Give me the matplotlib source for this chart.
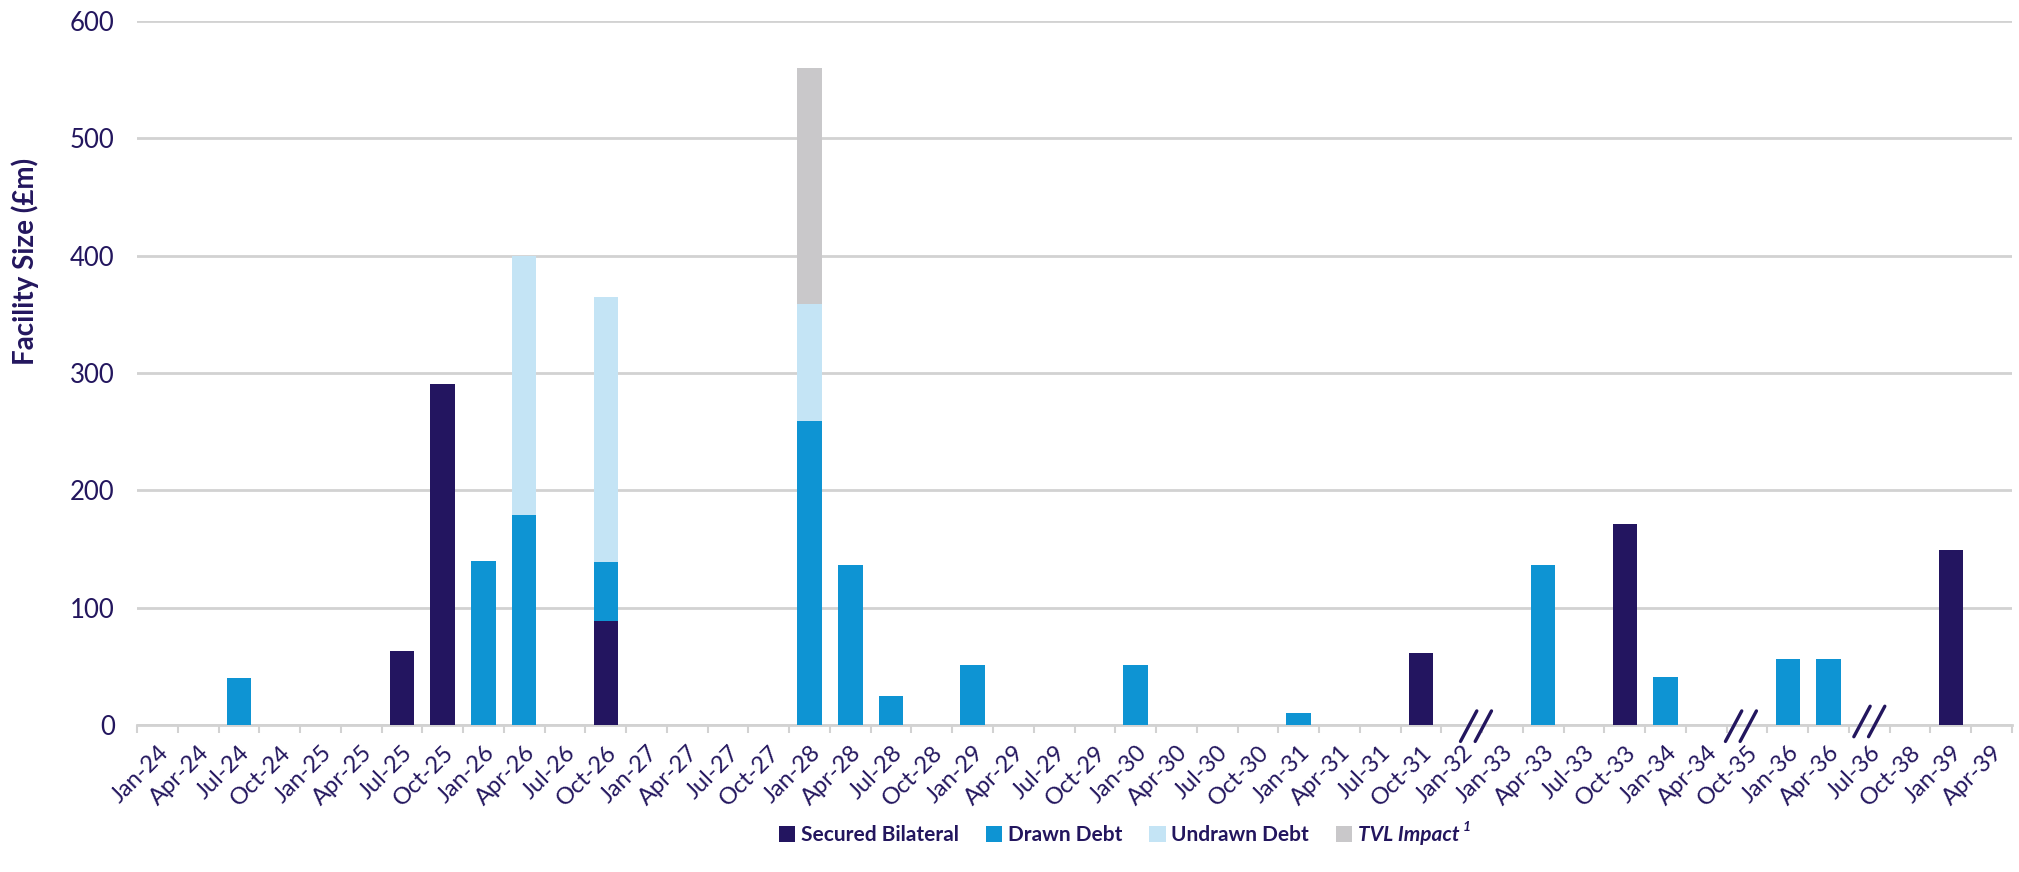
"""Debt maturity profile: facility size by maturity quarter, stacked bars."""

import matplotlib

matplotlib.use("Agg")
import matplotlib.pyplot as plt
from matplotlib.patches import Patch
from matplotlib.transforms import IdentityTransform

# %% data
QUARTERS = [
    "Jan-24", "Apr-24", "Jul-24", "Oct-24", "Jan-25", "Apr-25", "Jul-25", "Oct-25",
    "Jan-26", "Apr-26", "Jul-26", "Oct-26", "Jan-27", "Apr-27", "Jul-27", "Oct-27",
    "Jan-28", "Apr-28", "Jul-28", "Oct-28", "Jan-29", "Apr-29", "Jul-29", "Oct-29",
    "Jan-30", "Apr-30", "Jul-30", "Oct-30", "Jan-31", "Apr-31", "Jul-31", "Oct-31",
    "Jan-32", "Jan-33", "Apr-33", "Jul-33", "Oct-33", "Jan-34", "Apr-34", "Oct-35",
    "Jan-36", "Apr-36", "Jul-36", "Oct-38", "Jan-39", "Apr-39",
]

# £m per quarter
secured_bilateral = {"Jul-25": 63, "Oct-25": 291, "Oct-26": 89, "Oct-31": 61,
                     "Oct-33": 171, "Jan-39": 149}
drawn_debt = {"Jul-24": 40, "Jan-26": 140, "Apr-26": 179, "Oct-26": 50, "Jan-28": 259,
              "Apr-28": 136, "Jul-28": 25, "Jan-29": 51, "Jan-30": 51, "Jan-31": 10,
              "Apr-33": 136, "Jan-34": 41, "Jan-36": 56, "Apr-36": 56}
undrawn_debt = {"Apr-26": 221, "Oct-26": 226, "Jan-28": 100}
tvl_impact = {"Jan-28": 201}

# axis-break marks sit between these quarters (fractional category index)
AXIS_BREAKS = [32.35, 38.85, 42.0]

SERIES = [
    ("Secured Bilateral", secured_bilateral, "#231560"),
    ("Drawn Debt", drawn_debt, "#0e94d3"),
    ("Undrawn Debt", undrawn_debt, "#c4e4f5"),
    ("TVL Impact", tvl_impact, "#c9c8ca"),
]
FOOTNOTE_MARK = "1"  # superscript after the TVL legend entry

NAVY = "#23165e"
GRID = "#d2d2d2"
W, H = 2019, 872
LEGEND_CENTRE = (1119, 835)  # px from top-left

plt.rcParams["font.family"] = ["Lato", "DejaVu Sans"]

# %% plot
fig = plt.figure(figsize=(W / 100, H / 100), dpi=100)
ax = fig.add_axes([137 / W, 1 - 725 / H, 1875 / W, 704 / H])

x = list(range(len(QUARTERS)))
bottom = [0.0] * len(QUARTERS)
for name, values, colour in SERIES:
    heights = [values.get(q, 0) for q in QUARTERS]
    ax.bar(x, heights, width=0.6, bottom=bottom, color=colour, zorder=3)
    bottom = [b + h for b, h in zip(bottom, heights)]

ax.set_xlim(-0.5, len(QUARTERS) - 0.5)
ax.set_ylim(0, 600)
ax.set_yticks(range(0, 601, 100))
ax.yaxis.grid(True, color=GRID, linewidth=2, zorder=0)
ax.set_axisbelow(True)

for side in ("left", "right", "top"):
    ax.spines[side].set_visible(False)
ax.spines["bottom"].set_color(GRID)
ax.spines["bottom"].set_linewidth(2)
ax.spines["bottom"].set_zorder(2)

ax.set_xticks(x)
ax.set_xticklabels(QUARTERS, rotation=45, ha="right", rotation_mode="anchor")
ax.set_xticks([i - 0.5 for i in range(len(QUARTERS) + 1)], minor=True)
ax.tick_params(axis="x", which="major", length=0, pad=12, labelsize=17, labelcolor=NAVY)
ax.tick_params(axis="x", which="minor", length=6, width=1.5, color=GRID)
ax.tick_params(axis="y", length=0, pad=16, labelsize=18.5, labelcolor=NAVY)

ax.set_ylabel("Facility Size (£m)", fontsize=20, fontweight="bold", color=NAVY)
ax.yaxis.set_label_coords(-0.052, 0.659)

# "//" axis-break marks
for c in AXIS_BREAKS:
    y0 = 3 if c == AXIS_BREAKS[-1] else -1
    for dx in (-0.18, 0.18):
        ax.plot([c + dx - 0.2, c + dx + 0.2], [y0 - 13, y0 + 13], color=NAVY,
                linewidth=2.4, solid_capstyle="round", clip_on=False, zorder=5)

handles = [Patch(facecolor=colour, edgecolor="none") for _, _, colour in SERIES]
labels = [name for name, _, _ in SERIES]
ax_x, ax_y = LEGEND_CENTRE[0] / W, 1 - LEGEND_CENTRE[1] / H
leg = fig.legend(handles, labels, loc="center", bbox_to_anchor=(ax_x, ax_y),
                 ncol=4, frameon=False, fontsize=15, handlelength=0.8, handleheight=0.8,
                 handletextpad=0.25, columnspacing=1.3, borderpad=0)
for txt in leg.get_texts():
    txt.set_color(NAVY)
    txt.set_fontweight("bold")
leg.get_texts()[-1].set_fontstyle("italic")

# nudge the legend so its centre lands on LEGEND_CENTRE
fig.canvas.draw()
lb = leg.get_window_extent()
cx, cy = (lb.x0 + lb.x1) / 2, (lb.y0 + lb.y1) / 2
leg.set_bbox_to_anchor((ax_x + (LEGEND_CENTRE[0] - cx) / W,
                        ax_y + ((H - LEGEND_CENTRE[1]) - cy) / H),
                       transform=fig.transFigure)
fig.canvas.draw()

# superscript footnote mark next to the last legend entry
bb = leg.get_texts()[-1].get_window_extent()
fig.text(bb.x1 + 3, bb.y1 + 4, FOOTNOTE_MARK, transform=IdentityTransform(),
         ha="left", va="top", fontsize=10, fontweight="bold", fontstyle="italic",
         color=NAVY)

fig.savefig("out.png", dpi=100)
